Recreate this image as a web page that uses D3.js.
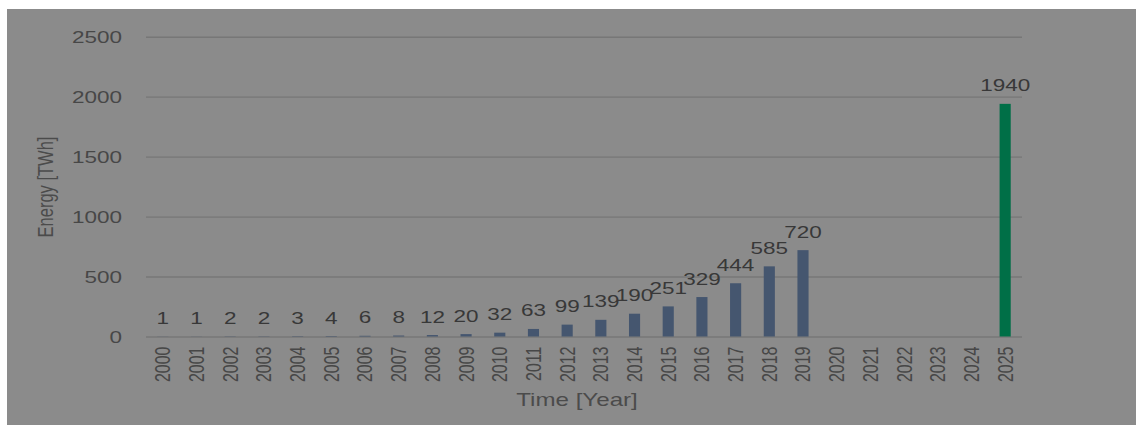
<!DOCTYPE html>
<html>
<head>
<meta charset="utf-8">
<script src="https://cdn.jsdelivr.net/npm/d3@7"></script>
<style>
  html, body { margin: 0; padding: 0; background: #ffffff; }
  svg { display: block; }
  text { font-family: "Liberation Sans", Arial, sans-serif; }
</style>
</head>
<body>
<svg id="chart" width="1136" height="425"></svg>
<script>
// Annual energy, TWh
const years = ["2000","2001","2002","2003","2004","2005","2006","2007","2008","2009",
               "2010","2011","2012","2013","2014","2015","2016","2017","2018","2019",
               "2020","2021","2022","2023","2024","2025"];
const energy = [1, 1, 2, 2, 3, 4, 6, 8, 12, 20,
                32, 63, 99, 139, 190, 251, 329, 444, 585, 720,
                null, null, null, null, null, 1940];
const projectedYears = ["2025"];
const yTicks = [0, 500, 1000, 1500, 2000, 2500];

const W = 1136, H = 425;
const plot = { left: 146, right: 1022, top: 36.7, bottom: 336.5 };
const stretchX = 1.38;   // wide text rendering

const svg = d3.select("#chart");

// panel background
svg.append("rect")
  .attr("x", 7).attr("y", 9)
  .attr("width", W - 7).attr("height", H - 9)
  .attr("fill", "#8b8b8b");

const x = d3.scaleBand()
  .domain(years)
  .range([plot.left, plot.right])
  .paddingInner(0.67)
  .paddingOuter(0.335);

const y = d3.scaleLinear()
  .domain([0, 2500])
  .range([plot.bottom, plot.top]);

// gridlines + y tick labels
const yAxis = d3.axisLeft(y)
  .tickValues(yTicks)
  .tickSize(-(plot.right - plot.left))
  .tickPadding(0)
  .tickFormat(d3.format("d"));

const gy = svg.append("g")
  .attr("transform", `translate(${plot.left},0)`)
  .call(yAxis);
gy.select(".domain").remove();
gy.selectAll(".tick line")
  .attr("stroke", "#777777")
  .attr("stroke-width", 1.4);
gy.selectAll(".tick text")
  .attr("x", 0)
  .attr("dy", "0.36em")
  .attr("text-anchor", "end")
  .attr("font-size", 16.3)
  .attr("fill", "#474747")
  .attr("transform", `translate(-24,0) scale(${stretchX},1)`);

// bars
const data = years.map((yr, i) => ({ year: yr, value: energy[i] }))
  .filter(d => d.value !== null);

svg.append("g").selectAll("rect")
  .data(data)
  .join("rect")
  .attr("x", d => x(d.year))
  .attr("width", x.bandwidth())
  .attr("y", d => y(d.value))
  .attr("height", d => y(0) - y(d.value))
  .attr("fill", d => projectedYears.includes(d.year) ? "#006f47" : "#45566f");

// value labels
svg.append("g").selectAll("text")
  .data(data)
  .join("text")
  .attr("transform", d =>
    `translate(${x(d.year) + x.bandwidth() / 2},${y(d.value) - 12.5}) scale(${stretchX},1)`)
  .attr("text-anchor", "middle")
  .attr("font-size", 16.3)
  .attr("fill", "#383838")
  .text(d => d.value);

// x tick labels (rotated years)
const xAxis = d3.axisBottom(x).tickSize(0).tickPadding(0);
const gx = svg.append("g")
  .attr("transform", `translate(0,${plot.bottom})`)
  .call(xAxis);
gx.select(".domain").remove();
gx.selectAll(".tick text")
  .attr("x", 0).attr("y", 0).attr("dy", null)
  .attr("transform", `translate(0,10) scale(${stretchX},1) rotate(-90)`)
  .attr("text-anchor", "end")
  .attr("dominant-baseline", "central")
  .attr("font-size", 16)
  .attr("fill", "#474747");

// axis titles
svg.append("text")
  .attr("transform", `translate(${(plot.left + plot.right) / 2 - 7},406) scale(${stretchX},1)`)
  .attr("text-anchor", "middle")
  .attr("font-size", 17.5)
  .attr("fill", "#4b4b4b")
  .text("Time [Year]");

svg.append("text")
  .attr("transform", `translate(45,187) scale(${stretchX},1) rotate(-90)`)
  .attr("text-anchor", "middle")
  .attr("dominant-baseline", "central")
  .attr("font-size", 16.5)
  .attr("fill", "#4b4b4b")
  .text("Energy [TWh]");
</script>
</body>
</html>
